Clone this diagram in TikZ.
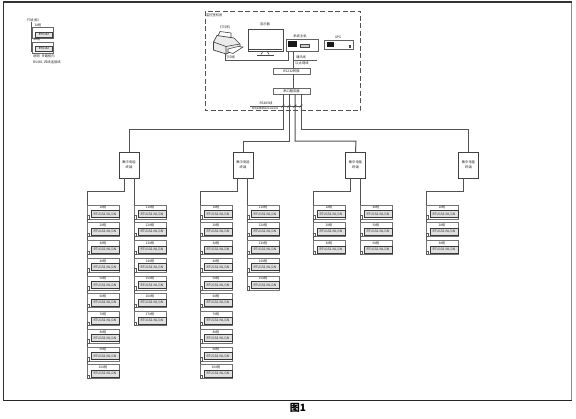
\documentclass[tikz,border=0pt]{standalone}
\usepackage{fontspec}
\setmainfont{Noto Sans CJK SC}
\usetikzlibrary{arrows.meta,calc}
\newcommand{\tinyfs}{\fontsize{3.3}{4.6}\selectfont}
\tikzset{
  x=1pt,y=-1pt,
  every node/.style={inner sep=0pt,outer sep=0pt},
  wire/.style={draw=black!68,line width=1pt},
  fine/.style={draw=black!65,line width=0.6pt},
  lab/.style={font=\tinyfs,text=black!85},
  devouter/.style={draw=black!55,line width=0.9pt,fill=white,minimum width=32pt,minimum height=14pt,anchor=north west},
  devinner/.style={draw=black!78,line width=0.8pt,fill=black!12,minimum width=28pt,minimum height=7pt,anchor=north west,font=\tinyfs,text=black!85},
  collector/.style={draw=black!75,line width=0.9pt,fill=white,minimum width=20pt,minimum height=26pt,anchor=north west,align=center,font=\tinyfs,text=black!85},
  switchbox/.style={draw=black!60,line width=0.8pt,fill=white,minimum width=37pt,minimum height=6pt,anchor=north west,font=\tinyfs,text=black!85},
  conv/.style={-{Stealth[length=2pt,width=2pt]},draw=black!85,line width=0.5pt},
  legbox/.style={draw=black!60,line width=0.8pt,minimum width=21pt,minimum height=11pt,anchor=north west},
  leginner/.style={draw=black!75,line width=0.8pt,fill=black!10,minimum width=17pt,minimum height=5.5pt,anchor=north west,font=\fontsize{2.8}{3}\selectfont}
}
\newcommand{\device}[4]{% name, x, row, label
  \pgfmathsetmacro{\devy}{205+17.75*(#3)}
  \node[devouter] (#1) at (#2,\devy) {};
  \node[lab] (#1t) at ($(#2,\devy)+(16,2.6)$) {#4};
  \node[devinner] (#1i) at ($(#2,\devy)+(4,5.5)$) {RTU132-NL/1N};
  \draw[fine,fill=white] ($(#2,\devy)+(0,10.5)$) rectangle ($(#2,\devy)+(2.5,14)$);
}
\begin{document}
\begin{tikzpicture}
\useasboundingbox (0,0) rectangle (576,418);
% outer frame
\draw[draw=black!45,line width=0.9pt] (571.5,2) -- (571.5,400);
\draw[draw=black!80,line width=1.3pt] (3.5,400.5) -- (3.5,2) -- (571.5,2);
\draw[draw=black!85,line width=1.2pt] (3.5,400.5) -- (571.5,400.5);
\node[font=\fontsize{10}{12}\selectfont\bfseries] (cap) at (298,408) {图1};

% legend
\node[lab] (lg0) at (33,20) {只读(标)};
\node[lab] (lg1) at (38,25) {1\#柜};
\node[legbox] (la) at (32,27) {};
\node[leginner] (lai) at (35.5,32) {RTU132};
\node[lab] (lg2) at (37,39.5) {2\#柜};
\node[legbox] (lb) at (32,42) {};
\node[leginner] (lbi) at (35.5,46) {RTU132};
\draw[fine] (31,22) -- (31,52);
\node[lab,anchor=west] (lg3) at (33,56.5) {说明: 多路柜内};
\node[lab,anchor=west] (lg4) at (33,62) {RS485, 四线连接线};

% monitoring room
\draw[draw=black!68,line width=1pt,dash pattern=on 5pt off 2.5pt] (205,11) rectangle (360.5,110.5);
\node[lab,anchor=west] (room) at (206,15) {监控室机房};

% printer
\node[lab] (prtl) at (225,27) {打印机};
\draw[black!75,line width=0.6pt,fill=white] (217,38) -- (220,31.5) -- (231,33) -- (231,39) -- cycle;
\draw[black!75,line width=0.7pt,fill=black!8] (213.5,42) -- (217,35.5) -- (234,38) -- (240,44) -- (240,47) -- (226,54) -- (213.5,50) -- cycle;
\draw[black!75,line width=0.6pt] (213.5,42) -- (226,46.5) -- (240,44) (226,46.5) -- (226,54);
\draw[black!75,line width=0.6pt,fill=white] (228,52) -- (228,49) -- (238,46.5) -- (243,47) -- (233,53.5) -- cycle;
\node[minimum size=0.1pt] (printer) at (225,54) {};
\node[lab] (prtw) at (230,57.5) {打印线};
% monitor
\node[lab] (monl) at (265,24) {显示器};
\node[draw=black!72,line width=1pt,fill=white,minimum width=35pt,minimum height=22pt,anchor=north west] (monitor) at (248,29) {};
\draw[black!72,line width=0.8pt] (249,49.5) -- (282,49.5);
\fill[black!72] (269,48.6) rectangle (282,50);
\draw[black!72,line width=0.6pt] (263,51) -- (261,54.5) (267,51) -- (269,54.5);
\draw[black!72,line width=0.9pt] (257,55) -- (274,55);
% host
\node[lab] (hostl) at (300,36) {系统主机};
\node[draw=black!62,line width=1pt,fill=white,minimum width=32pt,minimum height=12pt,anchor=north west] (host) at (286,39) {};
\fill[black!90] (288,41) rectangle (297,46.5);
\draw[black!72,line width=0.5pt,fill=black!20] (300,44.5) rectangle (309,47.5);
% UPS
\node[lab] (upsl) at (338,37) {UPS};
\node[draw=black!62,line width=1pt,fill=white,minimum width=29pt,minimum height=9pt,anchor=north west] (ups) at (324,40) {};
\fill[black!90] (327,41.5) rectangle (334,46.5);
\fill[black!72] (349,45) rectangle (351,47.5);

% switches
\node[switchbox] (sw1) at (273,68) {RS232转换};
\node[switchbox] (sw2) at (273,88) {串口服务器};
\coordinate (busn) at (317,60);
\coordinate (pj) at (225,60);
\coordinate (hb1) at (288,60);
\draw[wire] (printer.south) -- (pj) -- (hb1) -- (288,51);
\draw[wire] (293,51) -- (293,68);
\draw[wire] (293,74) -- (293,88);
\draw[fine] (293,60) -- (busn);
\node[lab] (t1) at (301,57.5) {通讯线};
\node[lab] (t2) at (302,63) {以太网线};

% room labels and conv arrows
\node[lab] (t3) at (266,103.5) {RS485线};
\node[font=\fontsize{2.4}{3}\selectfont,text=black!85] (t4) at (265,108.3) {现场采集模块RS485总线};
\coordinate (hl) at (250,106);
\coordinate (hr) at (301,106);
\draw[fine] (hl) -- (hr);
\foreach \xx in {283,289,295,301}{\draw[conv] (\xx-1.5,107.5) -- (\xx+1.5,104.5);}

% collectors
\node[collector] (c1) at (119,152) {集中电能\\终端};
\node[collector] (c2) at (233,152) {集中电能\\终端};
\node[collector] (c3) at (345.5,152) {集中电能\\终端};
\node[collector] (c4) at (458.5,152) {集中电能\\终端};

% feeders
\draw[wire] (283,94) -- (283,129) -- (129,129) -- (c1.north);
\draw[wire] (289,94) -- (289,141) -- (243,141) -- (c2.north);
\draw[wire] (295,94) -- (295,141) -- (356,141) -- (c3.north);
\draw[wire] (301,94) -- (301,129) -- (468.5,129) -- (c4.north);

% buses (drawn before devices)
\draw[wire] (124,178) -- (124,191.5) -- (87.5,191.5) -- (87.5,375);
\draw[wire] (134.5,178) -- (134.5,322);
\draw[wire] (237,178) -- (237,191.5) -- (200.5,191.5) -- (200.5,375);
\draw[wire] (247,178) -- (247,286);
\draw[wire] (350.5,178) -- (350.5,191.5) -- (313.5,191.5) -- (313.5,251);
\draw[wire] (360.5,178) -- (360.5,251);
\draw[wire] (463.5,178) -- (463.5,191.5) -- (426.5,191.5) -- (426.5,251);

% devices
\foreach \r [evaluate=\r as \n using int(\r+1)] in {0,...,9}{
  \device{a\r}{87}{\r}{\n\#柜}
  \device{c\r}{200}{\r}{\n\#柜}
}
\foreach \r [evaluate=\r as \n using int(\r+11)] in {0,...,6}{
  \device{b\r}{134}{\r}{\n\#柜}
}
\foreach \r [evaluate=\r as \n using int(\r+11)] in {0,...,4}{
  \device{d\r}{247}{\r}{\n\#柜}
}
\foreach \r [evaluate=\r as \n using int(\r+1)] in {0,1,2}{
  \device{e\r}{313}{\r}{\n\#柜}
}
\foreach \r [evaluate=\r as \n using int(\r+4)] in {0,1,2}{
  \device{f\r}{360}{\r}{\n\#柜}
}
\foreach \r [evaluate=\r as \n using int(\r+1)] in {0,1,2}{
  \device{g\r}{426}{\r}{\n\#柜}
}
\end{tikzpicture}
\end{document}
